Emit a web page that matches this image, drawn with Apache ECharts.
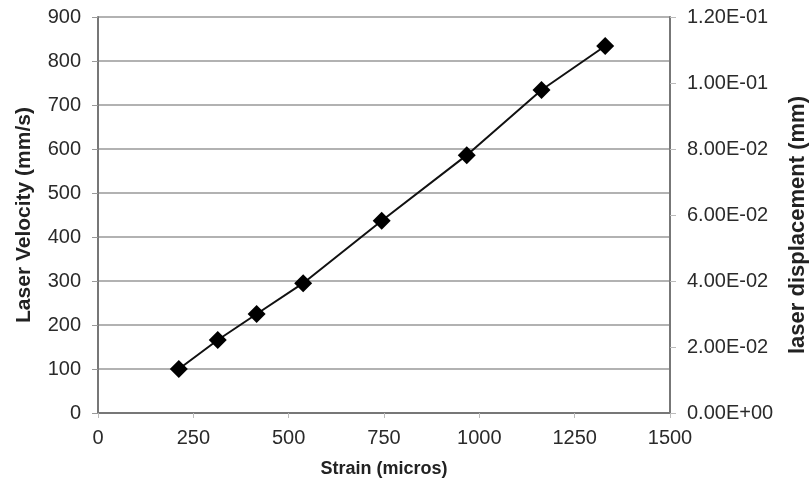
<!DOCTYPE html>
<html>
<head>
<meta charset="utf-8">
<script src="https://cdn.jsdelivr.net/npm/echarts@6/dist/echarts.min.js"></script>
<style>html,body{margin:0;padding:0;background:#fff;}#c{width:809px;height:493px;}</style>
</head>
<body>
<div id="c"></div>
<script>
var strain = [212, 314, 416, 538, 744, 967, 1163, 1330];
var velocity = [100, 166, 225, 295, 437, 586, 734, 834];
var xTitle = 'Strain (micros)';
var yLeftTitle = 'Laser Velocity (mm/s)';
var yRightTitle = 'laser displacement (mm)';

function sci(v) {
  if (v === 0) return '0.00E+00';
  var e = Math.floor(Math.log10(Math.abs(v)) + 1e-9);
  var m = v / Math.pow(10, e);
  var s = e < 0 ? '-' : '+';
  var ae = Math.abs(e);
  return m.toFixed(2) + 'E' + s + (ae < 10 ? '0' + ae : '' + ae);
}
function plain(v) { return String(v); }

var font = 'Liberation Sans, Arial, sans-serif';
var chart = echarts.init(document.getElementById('c'), null, {renderer: 'canvas'});
chart.setOption({
  animation: false,
  backgroundColor: '#fff',
  grid: {left: 98, right: 139, top: 17, bottom: 80, containLabel: false, outerBoundsMode: 'none'},
  xAxis: {
    type: 'value', min: 0, max: 1500, interval: 250,
    name: xTitle, nameLocation: 'middle', nameGap: 47,
    nameTextStyle: {fontFamily: font, fontSize: 18, fontWeight: 'bold', color: '#222'},
    axisLine: {show: true, lineStyle: {color: '#777', width: 2}},
    axisTick: {show: true, inside: false, length: 5, lineStyle: {color: '#bbb'}},
    axisLabel: {fontFamily: font, fontSize: 20, color: '#2a2a2a', margin: 15, formatter: plain},
    splitLine: {show: false}
  },
  yAxis: [{
    type: 'value', min: 0, max: 900, interval: 100,
    name: yLeftTitle, nameLocation: 'middle', nameGap: 63, nameRotate: 90,
    nameTextStyle: {fontFamily: font, fontSize: 21, fontWeight: 'bold', color: '#222'},
    axisLine: {show: true, lineStyle: {color: '#777', width: 2}},
    axisTick: {show: true, inside: false, length: 6, lineStyle: {color: '#999'}},
    axisLabel: {fontFamily: font, fontSize: 20, color: '#2a2a2a', margin: 17, formatter: plain},
    splitLine: {show: true, lineStyle: {color: '#999', width: 1.5}}
  }, {
    type: 'value', min: 0, max: 0.12, interval: 0.02, position: 'right',
    name: yRightTitle, nameLocation: 'middle', nameGap: 117, nameRotate: 90,
    nameTextStyle: {fontFamily: font, fontSize: 22, fontWeight: 'bold', color: '#222', padding: [0, 20, 0, 0]},
    axisLine: {show: true, lineStyle: {color: '#777', width: 2}},
    axisTick: {show: true, inside: false, length: 6, lineStyle: {color: '#bbb'}},
    axisLabel: {fontFamily: font, fontSize: 20, color: '#2a2a2a', margin: 17, formatter: sci},
    splitLine: {show: false}
  }],
  series: [{
    type: 'line',
    yAxisIndex: 0,
    data: strain.map(function (s, i) { return [s, velocity[i]]; }),
    symbol: 'diamond', symbolSize: 18,
    itemStyle: {color: '#000'},
    lineStyle: {color: '#111', width: 2},
    z: 5
  }]
});
</script>
</body>
</html>
